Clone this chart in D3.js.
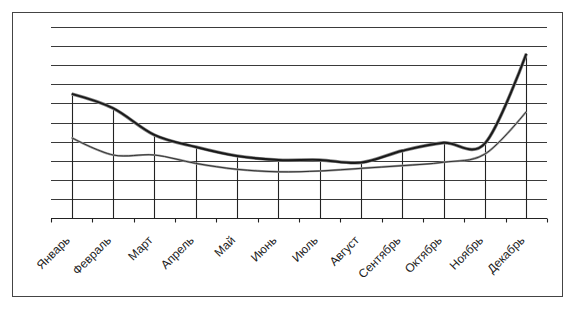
<!DOCTYPE html>
<html>
<head>
<meta charset="utf-8">
<script src="https://cdn.jsdelivr.net/npm/d3@7"></script>
<style>
  body { margin: 0; background: #fff; }
  svg { display: block; }
</style>
</head>
<body>
<div id="chart"></div>
<script>
// months on the x axis
var months = ["Январь", "Февраль", "Март", "Апрель", "Май", "Июнь",
              "Июль", "Август", "Сентябрь", "Октябрь", "Ноябрь", "Декабрь"];
// upper (dark) series
var seriesDark = [6.5, 5.75, 4.35, 3.72, 3.25, 3.04, 3.04, 2.9, 3.52, 3.94, 3.91, 8.6];
// lower (gray) series
var seriesGray = [4.2, 3.3, 3.3, 2.86, 2.55, 2.42, 2.46, 2.6, 2.74, 2.92, 3.35, 5.57];
// gridline values (no labels drawn)
var gridValues = [1, 2, 3, 4, 5, 6, 7, 8, 9, 10];

var width = 575, height = 309;
var plotLeft = 51, plotRight = 547, plotTop = 27, plotBottom = 218;

var svg = d3.select("#chart").append("svg")
    .attr("width", width)
    .attr("height", height);

// outer frame
svg.append("rect")
  .attr("x", 12.5).attr("y", 12.5)
  .attr("width", 550).attr("height", 284)
  .attr("fill", "#fff")
  .attr("stroke", "#444")
  .attr("stroke-width", 1);

var x = d3.scaleBand().domain(months).range([plotLeft, plotRight]).padding(0);
var y = d3.scaleLinear().domain([0, 10]).range([plotBottom, plotTop]);
var cx = function(i) { return x(months[i]) + x.bandwidth() / 2; };

// horizontal gridlines
svg.append("g")
  .selectAll("line")
  .data(gridValues)
  .enter().append("line")
    .attr("x1", plotLeft).attr("x2", plotRight)
    .attr("y1", function(d) { return Math.round(y(d)) + 0.5; })
    .attr("y2", function(d) { return Math.round(y(d)) + 0.5; })
    .attr("stroke", "#3a3a3a")
    .attr("stroke-width", 1.2);

// drop lines from the upper series to the axis
svg.append("g")
  .selectAll("line")
  .data(months)
  .enter().append("line")
    .attr("x1", function(d, i) { return Math.round(cx(i)) + 0.5; })
    .attr("x2", function(d, i) { return Math.round(cx(i)) + 0.5; })
    .attr("y1", function(d, i) { return y(Math.max(seriesDark[i], seriesGray[i])); })
    .attr("y2", plotBottom)
    .attr("stroke", "#222")
    .attr("stroke-width", 1.1);

// x axis line and ticks between categories
var axisY = Math.round(plotBottom) + 0.5;
svg.append("line")
  .attr("x1", plotLeft).attr("x2", plotRight)
  .attr("y1", axisY).attr("y2", axisY)
  .attr("stroke", "#222").attr("stroke-width", 1.2);

svg.append("g")
  .selectAll("line")
  .data(d3.range(months.length + 1))
  .enter().append("line")
    .attr("x1", function(i) { return Math.round(plotLeft + i * x.step()) + 0.5; })
    .attr("x2", function(i) { return Math.round(plotLeft + i * x.step()) + 0.5; })
    .attr("y1", axisY).attr("y2", axisY + 4)
    .attr("stroke", "#222").attr("stroke-width", 1.1);

// category labels, rotated
svg.append("g")
  .selectAll("text")
  .data(months)
  .enter().append("text")
    .attr("transform", function(d, i) {
      return "translate(" + (cx(i) - 4) + "," + (plotBottom + 20) + ") rotate(-45)";
    })
    .attr("text-anchor", "end")
    .attr("dy", "0.35em")
    .attr("font-family", "Liberation Sans, Arial, sans-serif")
    .attr("font-size", "12px")
    .attr("fill", "#222")
    .text(function(d) { return d; });

// lines
var line = d3.line()
  .x(function(d, i) { return cx(i); })
  .y(function(d) { return y(d); })
  .curve(d3.curveCardinal.tension(0));

svg.append("path")
  .datum(seriesGray)
  .attr("d", line)
  .attr("fill", "none")
  .attr("stroke", "#9a9a9a")
  .attr("stroke-width", 2.2);
svg.append("path")
  .datum(seriesGray)
  .attr("d", line)
  .attr("fill", "none")
  .attr("stroke", "#333")
  .attr("stroke-width", 1);

svg.append("path")
  .datum(seriesDark)
  .attr("d", line)
  .attr("fill", "none")
  .attr("stroke", "#888")
  .attr("stroke-width", 3.4);
svg.append("path")
  .datum(seriesDark)
  .attr("d", line)
  .attr("fill", "none")
  .attr("stroke", "#1a1a1a")
  .attr("stroke-width", 2);
</script>
</body>
</html>
